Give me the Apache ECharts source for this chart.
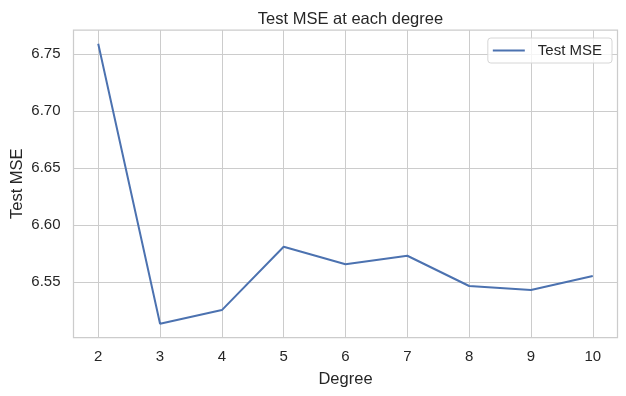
<!DOCTYPE html>
<html>
<head>
<meta charset="utf-8">
<script src="https://cdn.jsdelivr.net/npm/echarts@6/dist/echarts.min.js"></script>
<style>html,body{margin:0;padding:0;background:#fff;}#c{width:626px;height:396px;}</style>
</head>
<body>
<div id="c"></div>
<script>
const degrees = [2, 3, 4, 5, 6, 7, 8, 9, 10];
const testMSE = [6.7590, 6.5137, 6.5257, 6.5812, 6.5658, 6.5733, 6.5468, 6.5433, 6.5556];
const xTicks = [2, 3, 4, 5, 6, 7, 8, 9, 10];
const yTicks = [6.55, 6.60, 6.65, 6.70, 6.75];
const seriesName = 'Test MSE';
const titleText = 'Test MSE at each degree';
const xName = 'Degree';
const yName = 'Test MSE';

const FONT = '"Liberation Sans", Arial, sans-serif';
const chart = echarts.init(document.getElementById('c'), null, {renderer: 'canvas'});

chart.setOption({
  backgroundColor: '#ffffff',
  animation: false,
  title: {
    text: titleText, left: 345.5, textAlign: 'center', top: 6,
    textStyle: {fontFamily: FONT, fontSize: 16.5, fontWeight: 'normal', color: '#262626'}
  },
  legend: {
    data: [seriesName], right: 14, top: 38, icon: 'rect',
    backgroundColor: 'rgba(255,255,255,0.8)', borderColor: '#d6d6d6', borderWidth: 1, borderRadius: 3,
    padding: [5, 10, 5, 5], itemWidth: 32, itemHeight: 2, itemGap: 10,
    textStyle: {fontFamily: FONT, fontSize: 15, color: '#262626', padding: [0, 0, 0, 8]}
  },
  grid: {left: 73.5, right: 8.5, top: 30, bottom: 58.5, containLabel: false, outerBoundsMode: 'none',
    show: true, borderColor: '#cccccc', borderWidth: 1.25, backgroundColor: '#ffffff'},
  xAxis: {
    type: 'value', min: 1.6, max: 10.4,
    name: xName, nameLocation: 'middle', nameGap: 33,
    nameTextStyle: {fontFamily: FONT, fontSize: 16.5, color: '#262626'},
    axisLine: {show: false},
    axisTick: {show: false, customValues: xTicks},
    axisLabel: {fontFamily: FONT, fontSize: 15, color: '#262626', margin: 12, customValues: xTicks,
      formatter: v => String(v)},
    splitLine: {show: true, lineStyle: {color: '#cccccc', width: 1}}
  },
  yAxis: {
    type: 'value', min: 6.5017, max: 6.771,
    name: yName, nameLocation: 'middle', nameGap: 48, nameRotate: 90, nameMoveOverlap: false,
    nameTextStyle: {fontFamily: FONT, fontSize: 16.5, color: '#262626'},
    axisLine: {show: false},
    axisTick: {show: false, customValues: yTicks},
    axisLabel: {fontFamily: FONT, fontSize: 15, color: '#262626', margin: 13, customValues: yTicks,
      formatter: v => v.toFixed(2)},
    splitLine: {show: true, lineStyle: {color: '#cccccc', width: 1}}
  },
  series: [{
    name: seriesName, type: 'line', symbol: 'none',
    data: degrees.map((d, i) => [d, testMSE[i]]),
    lineStyle: {color: '#4c72b0', width: 2}, itemStyle: {color: '#4c72b0'}
  }]
});
</script>
</body>
</html>
